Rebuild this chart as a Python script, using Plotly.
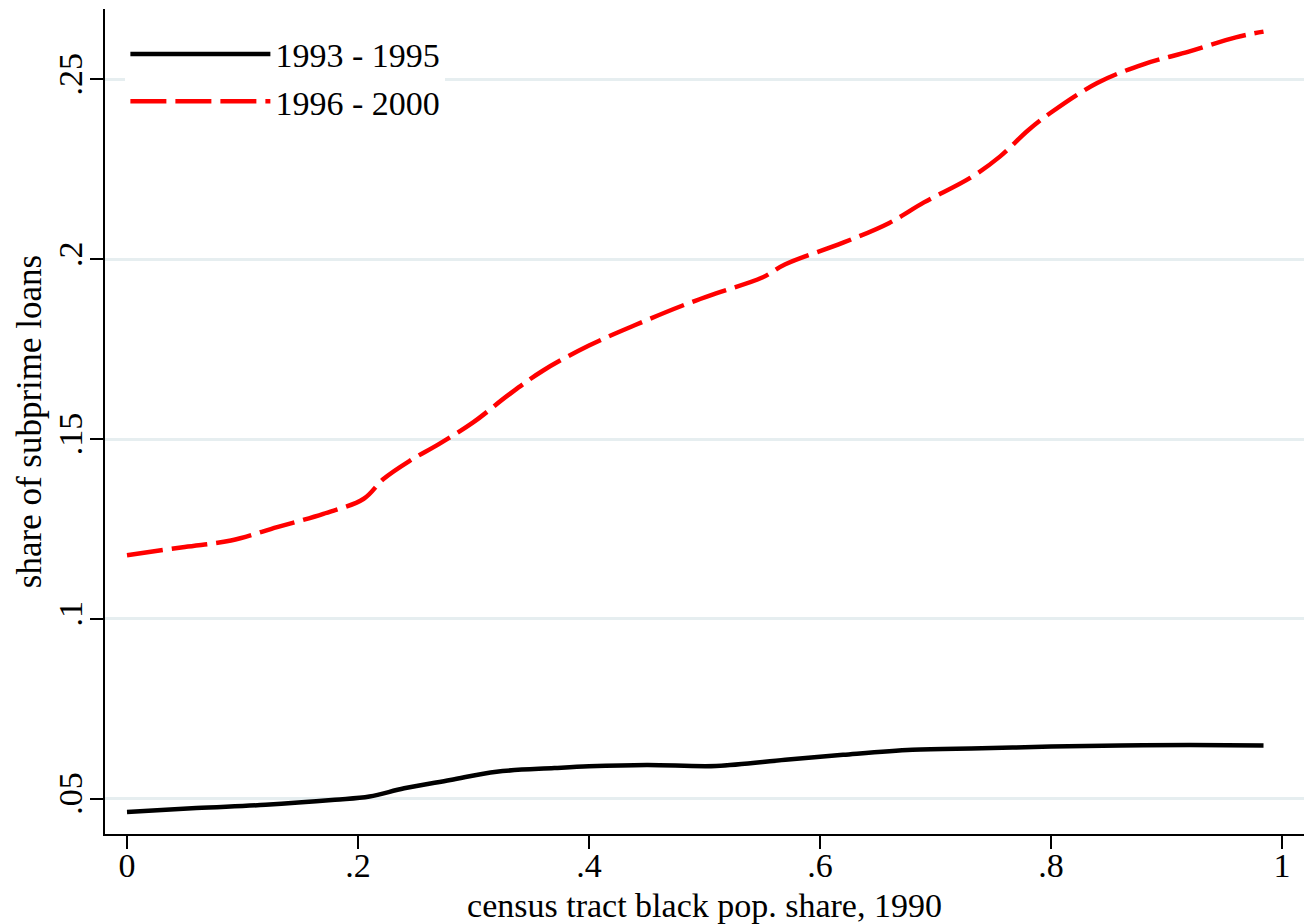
import plotly.graph_objects as go

# ---- data ----
x_9600 = [0.0, 0.05, 0.09, 0.13, 0.17, 0.205, 0.222, 0.245, 0.27, 0.30, 0.33, 0.36,
          0.40, 0.44, 0.48, 0.51, 0.55, 0.57, 0.62, 0.66, 0.69, 0.73, 0.756, 0.78,
          0.80, 0.84, 0.88, 0.92, 0.96, 0.984]
y_9600 = [0.1177, 0.1200, 0.1218, 0.1255, 0.1292, 0.1334, 0.1389, 0.1440, 0.1486,
          0.1547, 0.1622, 0.1690, 0.1760, 0.1817, 0.1870, 0.1905, 0.1949, 0.1986,
          0.2046, 0.2101, 0.2158, 0.2226, 0.2286, 0.2358, 0.2408, 0.2490, 0.2542,
          0.2578, 0.2617, 0.2633]

x_9395 = [0.0, 0.06, 0.12, 0.18, 0.21, 0.24, 0.28, 0.32, 0.37, 0.40, 0.45, 0.51,
          0.57, 0.62, 0.68, 0.74, 0.80, 0.86, 0.92, 0.984]
y_9395 = [0.0463, 0.0474, 0.0483, 0.0497, 0.0506, 0.0529, 0.0552, 0.0575, 0.0585,
          0.0590, 0.0594, 0.0591, 0.0608, 0.0622, 0.0636, 0.0640, 0.0645, 0.0648,
          0.0649, 0.0648]

series_names = ["1993 - 1995", "1996 - 2000"]
x_ticks = [0, 0.2, 0.4, 0.6, 0.8, 1]
x_ticktext = ["0", ".2", ".4", ".6", ".8", "1"]
y_ticks = [0.05, 0.10, 0.15, 0.20, 0.25]
y_ticktext = [".05", ".1", ".15", ".2", ".25"]
x_title = "census tract black pop. share, 1990"
y_title = "share of subprime loans"

X_RANGE = [-0.01905, 1.01905]
Y_RANGE = [0.04018, 0.26958]

FONT = "Liberation Serif, Times New Roman, serif"
FS = 34

fig = go.Figure()
fig.add_trace(go.Scatter(x=x_9395, y=y_9395, mode="lines", name=series_names[0],
                         line=dict(color="black", width=4.5, shape="spline")))
fig.add_trace(go.Scatter(x=x_9600, y=y_9600, mode="lines", name=series_names[1],
                         line=dict(color="#ff0000", width=4.5, shape="spline",
                                   dash="36px,9px")))
# empty helper traces so the tick-mark-only overlay axes get drawn
fig.add_trace(go.Scatter(x=[], y=[], xaxis="x2", yaxis="y", showlegend=False,
                         hoverinfo="skip"))
fig.add_trace(go.Scatter(x=[], y=[], xaxis="x", yaxis="y2", showlegend=False,
                         hoverinfo="skip"))

tick_style = dict(ticks="outside", ticklen=14, tickwidth=2, tickcolor="black",
                  showticklabels=False, showgrid=False, zeroline=False,
                  showline=False)

fig.update_layout(
    width=1304, height=924,
    margin=dict(l=105, r=0, t=9, b=88, pad=0),
    paper_bgcolor="white", plot_bgcolor="white",
    font=dict(family=FONT, size=FS, color="black"),
    showlegend=True,
    legend=dict(x=0.017, y=0.98, xanchor="left", yanchor="top",
                bgcolor="white", borderwidth=0, itemwidth=140,
                font=dict(family=FONT, size=FS, color="black"),
                tracegroupgap=0),
    xaxis=dict(range=X_RANGE, tickvals=x_ticks, ticktext=x_ticktext,
               showgrid=False, zeroline=False, showline=True, linecolor="black",
               linewidth=2, ticks="",
               tickfont=dict(family=FONT, size=FS),
               ticklabelstandoff=0,
               title=dict(text=x_title, font=dict(family=FONT, size=FS), standoff=16)),
    yaxis=dict(range=Y_RANGE, tickvals=y_ticks, ticktext=y_ticktext,
               showgrid=True, gridcolor="#e6eef0", gridwidth=2.5, zeroline=False,
               showline=True, linecolor="black", linewidth=2, ticks="",
               tickangle=-90, ticklabelstandoff=7,
               tickfont=dict(family=FONT, size=FS),
               title=dict(text=y_title, font=dict(family=FONT, size=35), standoff=0)),
    xaxis2=dict(range=X_RANGE, tickvals=x_ticks, overlaying="x", anchor="y",
                side="bottom", **tick_style),
    yaxis2=dict(range=Y_RANGE, tickvals=y_ticks, overlaying="y", anchor="x",
                side="left", **tick_style),
)

fig.write_html("out.html")
